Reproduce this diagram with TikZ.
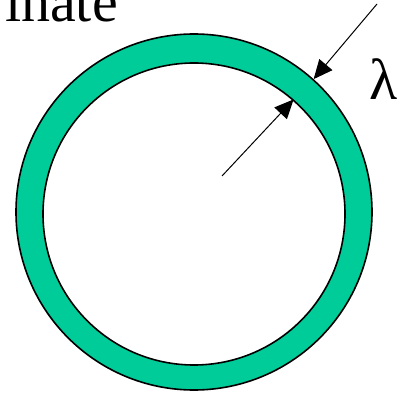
\documentclass[tikz,border=0pt]{standalone}
\usepackage{fontspec}
\setmainfont{Liberation Serif}
\usetikzlibrary{arrows.meta}
\definecolor{ringgreen}{RGB}{0,204,153}
\tikzset{
  ringline/.style={line width=1.6pt, draw=black},
  ptr/.style={line width=1pt, -{Triangle[length=19pt,width=17pt]}},
  bigtext/.style={inner sep=0pt, font=\fontsize{58}{60}\selectfont}
}
\begin{document}
\begin{tikzpicture}[x=1pt,y=-1pt]
\useasboundingbox (0,0) rectangle (412,395);
\fill[ringgreen, even odd rule] (194,212) circle[radius=178] (194,214) circle[radius=151];
\node[circle, minimum size=356pt, inner sep=0pt, ringline] (outerc) at (194,212) {};
\node[circle, minimum size=302pt, inner sep=0pt, ringline, fill=white] (innerc) at (194,214) {};
\coordinate (s1) at (377,4);
\coordinate (s2) at (222,176);
\draw[ptr] (s1) -- (outerc.48.5);
\draw[ptr] (s2) -- (innerc.49.5);
\node[bigtext, anchor=base east] (txt) at (118,22) {inate};
\node[bigtext, anchor=base] (lam) at (384,100) {λ};
\end{tikzpicture}
\end{document}
